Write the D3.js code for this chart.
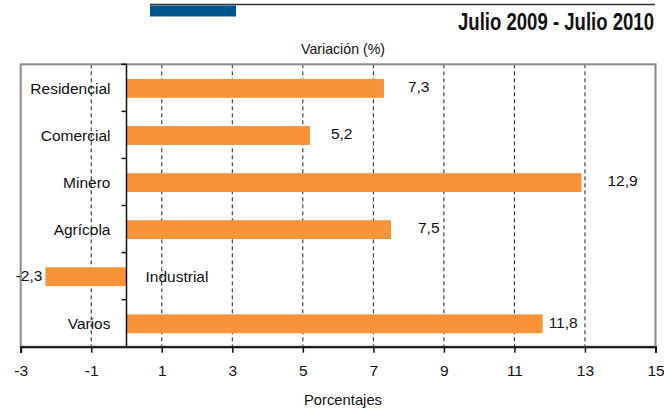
<!DOCTYPE html>
<html>
<head>
<meta charset="utf-8">
<script src="https://cdn.jsdelivr.net/npm/d3@7"></script>
<style>
  html, body { margin: 0; padding: 0; background: #fff; }
  svg { display: block; font-family: "Liberation Sans", Arial, sans-serif; }
</style>
</head>
<body>
<svg id="chart" width="664" height="409"></svg>
<script>
const categories = ["Residencial", "Comercial", "Minero", "Agrícola", "Industrial", "Varios"];
const values = [7.3, 5.2, 12.9, 7.5, -2.3, 11.8];
const valueLabels = ["7,3", "5,2", "12,9", "7,5", "-2,3", "11,8"];
const xTicks = [-3, -1, 1, 3, 5, 7, 9, 11, 13, 15];
const labelGap = [24, 21, 26, 27, 3, 6];
const title = "Julio 2009 - Julio 2010";
const topLabel = "Variación (%)";
const bottomLabel = "Porcentajes";

(function () {
const svg = d3.select("#chart");
const pL = 20.7, pR = 655.5, pT = 64.3, pB = 346.7;

const x = d3.scaleLinear().domain([-3, 15]).range([pL, pR]);
const y = d3.scaleBand().domain(categories).range([pT, pB]).paddingInner(0.6).paddingOuter(0.3);

// header decorations
svg.append("line").attr("x1", 150).attr("x2", 655).attr("y1", 4.5).attr("y2", 4.5)
  .attr("stroke", "#333").attr("stroke-width", 1.5);
svg.append("rect").attr("x", 150).attr("y", 5.5).attr("width", 86).attr("height", 11).attr("fill", "#00558F");

const t = svg.append("text").attr("x", 654).attr("y", 30).attr("text-anchor", "end")
  .attr("font-weight", "bold").attr("font-size", 23).attr("fill", "#111")
  .attr("font-family", "'Liberation Sans Narrow', 'Arial Narrow', 'Liberation Sans', sans-serif")
  .text(title);
const w = t.node().getComputedTextLength();
if (Math.abs(w - 196) > 6) {
  t.attr("textLength", 196).attr("lengthAdjust", "spacingAndGlyphs");
}

svg.append("text").attr("x", 343).attr("y", 54).attr("text-anchor", "middle")
  .attr("font-size", 15).attr("fill", "#111")
  .attr("textLength", 84).attr("lengthAdjust", "spacingAndGlyphs")
  .text(topLabel);

// gridlines
svg.append("g").selectAll("line").data(xTicks.filter(d => d > -3 && d < 15)).join("line")
  .attr("x1", d => x(d)).attr("x2", d => x(d)).attr("y1", pT).attr("y2", pB)
  .attr("stroke", "#222").attr("stroke-width", 1).attr("stroke-dasharray", "4,3");

// plot border (gray)
svg.append("rect").attr("x", pL).attr("y", pT).attr("width", pR - pL).attr("height", pB - pT)
  .attr("fill", "none").attr("stroke", "#8a8a8a").attr("stroke-width", 2);

// bars
const yOff = 0.6;
svg.append("g").selectAll("rect").data(values).join("rect")
  .attr("x", d => x(Math.min(0, d)))
  .attr("width", d => Math.abs(x(d) - x(0)))
  .attr("y", (d, i) => y(categories[i]) + yOff)
  .attr("height", y.bandwidth())
  .attr("fill", "#F7943A");

// bottom axis
const xAxis = svg.append("g").attr("transform", `translate(0,${pB})`)
  .call(d3.axisBottom(x).tickValues(xTicks).tickSize(6).tickPadding(12).tickFormat(d => String(d)));
xAxis.select(".domain").attr("stroke", "#111").attr("stroke-width", 2);
xAxis.selectAll(".tick line").attr("stroke", "#111").attr("stroke-width", 1.5);
xAxis.selectAll(".tick text").attr("font-size", 15.5).attr("fill", "#111")
  .attr("font-family", "Liberation Sans, Arial, sans-serif");

// zero axis with category boundary ticks
svg.append("line").attr("x1", x(0)).attr("x2", x(0)).attr("y1", pT).attr("y2", pB)
  .attr("stroke", "#111").attr("stroke-width", 1.5);
const boundaries = d3.range(categories.length).map(i => pT + i * (pB - pT) / categories.length);
svg.append("g").selectAll("line").data(boundaries).join("line")
  .attr("x1", x(0) - 5).attr("x2", x(0)).attr("y1", d => d).attr("y2", d => d)
  .attr("stroke", "#111").attr("stroke-width", 1.5);

// category labels
svg.append("g").selectAll("text").data(categories).join("text")
  .attr("x", (d, i) => values[i] < 0 ? x(0) + 19 : x(0) - 16)
  .attr("y", d => y(d) + y.bandwidth() / 2 + yOff)
  .attr("dy", "0.35em")
  .attr("text-anchor", (d, i) => values[i] < 0 ? "start" : "end")
  .attr("font-size", 15.5).attr("fill", "#111")
  .text(d => d);

// value labels
svg.append("g").selectAll("text").data(values).join("text")
  .attr("x", (d, i) => d < 0 ? x(d) - labelGap[i] : x(d) + labelGap[i])
  .attr("y", (d, i) => y(categories[i]) + y.bandwidth() / 2 - 1)
  .attr("dy", "0.35em")
  .attr("text-anchor", d => d < 0 ? "end" : "start")
  .attr("font-size", 15.5).attr("fill", "#111")
  .text((d, i) => valueLabels[i]);

svg.append("text").attr("x", 343).attr("y", 405).attr("text-anchor", "middle")
  .attr("font-size", 15).attr("fill", "#111")
  .attr("textLength", 78).attr("lengthAdjust", "spacingAndGlyphs")
  .text(bottomLabel);
})();
</script>
</body>
</html>
